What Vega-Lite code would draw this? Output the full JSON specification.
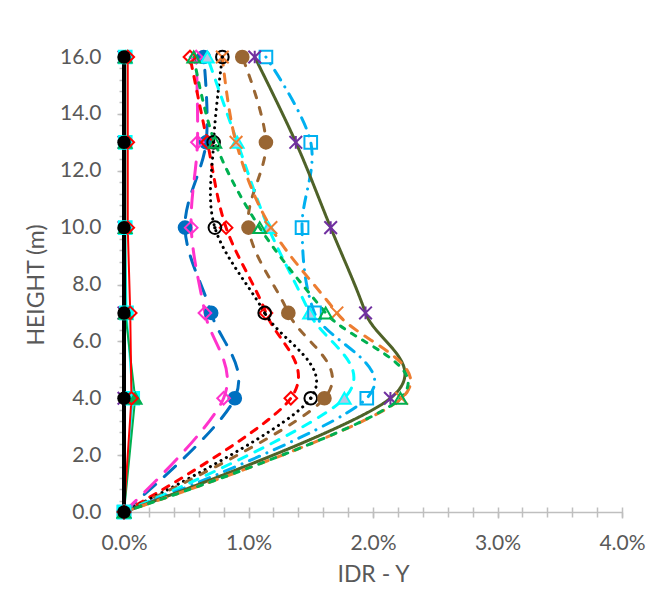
{
  "$schema": "https://vega.github.io/schema/vega-lite/v6.json",
  "width": 498,
  "height": 455,
  "autosize": {"type": "none"},
  "padding": {"left": 124, "top": 57, "right": 48, "bottom": 89},
  "background": "white",
  "config": {"view": {"stroke": null}, "font": "Lato"},
  "data": {"values": [
    {"s": "blue", "h": 0, "v": 0}, {"s": "blue", "h": 4, "v": 0.0089}, {"s": "blue", "h": 7, "v": 0.0070}, {"s": "blue", "h": 10, "v": 0.0049}, {"s": "blue", "h": 13, "v": 0.0066}, {"s": "blue", "h": 16, "v": 0.0064},
    {"s": "pink", "h": 0, "v": 0}, {"s": "pink", "h": 4, "v": 0.0080}, {"s": "pink", "h": 7, "v": 0.0065}, {"s": "pink", "h": 10, "v": 0.0054}, {"s": "pink", "h": 13, "v": 0.0059}, {"s": "pink", "h": 16, "v": 0.0058},
    {"s": "red", "h": 0, "v": 0}, {"s": "red", "h": 4, "v": 0.0134}, {"s": "red", "h": 7, "v": 0.0114}, {"s": "red", "h": 10, "v": 0.0082}, {"s": "red", "h": 13, "v": 0.0067}, {"s": "red", "h": 16, "v": 0.0053},
    {"s": "black", "h": 0, "v": 0}, {"s": "black", "h": 4, "v": 0.0150}, {"s": "black", "h": 7, "v": 0.0113}, {"s": "black", "h": 10, "v": 0.0073}, {"s": "black", "h": 13, "v": 0.0072}, {"s": "black", "h": 16, "v": 0.0079},
    {"s": "brown", "h": 0, "v": 0}, {"s": "brown", "h": 4, "v": 0.0161}, {"s": "brown", "h": 7, "v": 0.0132}, {"s": "brown", "h": 10, "v": 0.0100}, {"s": "brown", "h": 13, "v": 0.0114}, {"s": "brown", "h": 16, "v": 0.0095},
    {"s": "cyan", "h": 0, "v": 0}, {"s": "cyan", "h": 4, "v": 0.0177}, {"s": "cyan", "h": 7, "v": 0.0149}, {"s": "cyan", "h": 10, "v": 0.0116}, {"s": "cyan", "h": 13, "v": 0.0091}, {"s": "cyan", "h": 16, "v": 0.0067},
    {"s": "lightblue", "h": 0, "v": 0}, {"s": "lightblue", "h": 4, "v": 0.0195}, {"s": "lightblue", "h": 7, "v": 0.0153}, {"s": "lightblue", "h": 10, "v": 0.0143}, {"s": "lightblue", "h": 13, "v": 0.0150}, {"s": "lightblue", "h": 16, "v": 0.0114},
    {"s": "olive", "h": 0, "v": 0}, {"s": "olive", "h": 4, "v": 0.0214}, {"s": "olive", "h": 7, "v": 0.0194}, {"s": "olive", "h": 10, "v": 0.0166}, {"s": "olive", "h": 13, "v": 0.0138}, {"s": "olive", "h": 16, "v": 0.0105},
    {"s": "orange", "h": 0, "v": 0}, {"s": "orange", "h": 4, "v": 0.0223}, {"s": "orange", "h": 7, "v": 0.0171}, {"s": "orange", "h": 10, "v": 0.0118}, {"s": "orange", "h": 13, "v": 0.0090}, {"s": "orange", "h": 16, "v": 0.0079},
    {"s": "green", "h": 0, "v": 0}, {"s": "green", "h": 4, "v": 0.0222}, {"s": "green", "h": 7, "v": 0.0162}, {"s": "green", "h": 10, "v": 0.0109}, {"s": "green", "h": 13, "v": 0.0073}, {"s": "green", "h": 16, "v": 0.0056},
    {"s": "z_purple", "h": 0, "v": 0}, {"s": "z_purple", "h": 4, "v": 0}, {"s": "z_purple", "h": 7, "v": 0}, {"s": "z_purple", "h": 10, "v": 0}, {"s": "z_purple", "h": 13, "v": 0}, {"s": "z_purple", "h": 16, "v": 0},
    {"s": "z_cyan", "h": 0, "v": 0}, {"s": "z_cyan", "h": 4, "v": 0.0007}, {"s": "z_cyan", "h": 7, "v": 0.0002}, {"s": "z_cyan", "h": 10, "v": 0.0001}, {"s": "z_cyan", "h": 13, "v": 0.0001}, {"s": "z_cyan", "h": 16, "v": 0.0001},
    {"s": "z_green", "h": 0, "v": 0}, {"s": "z_green", "h": 4, "v": 0.0009}, {"s": "z_green", "h": 7, "v": 0.0001}, {"s": "z_green", "h": 10, "v": 0.0001}, {"s": "z_green", "h": 13, "v": 0.0001}, {"s": "z_green", "h": 16, "v": 0.0001},
    {"s": "z_red", "h": 0, "v": 0}, {"s": "z_red", "h": 4, "v": 0.0006}, {"s": "z_red", "h": 7, "v": 0.0005}, {"s": "z_red", "h": 10, "v": 0.0003}, {"s": "z_red", "h": 13, "v": 0.0003}, {"s": "z_red", "h": 16, "v": 0.0003},
    {"s": "z_black", "h": 0, "v": 0}, {"s": "z_black", "h": 4, "v": 0}, {"s": "z_black", "h": 7, "v": 0}, {"s": "z_black", "h": 10, "v": 0}, {"s": "z_black", "h": 13, "v": 0}, {"s": "z_black", "h": 16, "v": 0}
  ]},
  "layer": [
    {
      "transform": [{"filter": "indexof(['blue','pink','red','black','brown','cyan','lightblue','olive','orange','green'], datum.s) >= 0"}],
      "mark": {"type": "line", "interpolate": "cardinal", "strokeCap": "round", "strokeJoin": "round", "strokeWidth": 3},
      "encoding": {
        "x": {"field": "v", "type": "quantitative", "scale": {"domain": [0, 0.04], "nice": false, "zero": false},
          "axis": {"orient": "bottom", "values": [0, 0.01, 0.02, 0.03, 0.04], "format": ".1%", "title": "IDR - Y", "grid": false,
            "domainColor": "#BFBFBF", "domainWidth": 1.5, "tickColor": "#BFBFBF", "tickWidth": 1.5, "tickSize": 6,
            "labelPadding": 14, "labelFontSize": 21, "labelColor": "#595959", "labelFlush": false, "labelOverlap": false,
            "titleFontSize": 23, "titleColor": "#595959", "titleFontWeight": "normal", "titlePadding": 10}},
        "y": {"field": "h", "type": "quantitative", "scale": {"domain": [0, 16], "nice": false, "zero": false},
          "axis": {"orient": "left", "values": [0, 2, 4, 6, 8, 10, 12, 14, 16], "format": ".1f", "title": "HEIGHT (m)", "grid": false,
            "domainColor": "#BFBFBF", "domainWidth": 1.5, "tickColor": "#BFBFBF", "tickWidth": 1.5, "tickSize": 7,
            "labelPadding": 16, "labelFontSize": 21, "labelColor": "#595959", "labelFlush": false, "labelOverlap": false,
            "titleFontSize": 23, "titleColor": "#595959", "titleFontWeight": "normal", "titlePadding": 11}},
        "color": {"field": "s", "type": "nominal", "legend": null,
          "scale": {"domain": ["blue","pink","red","black","brown","cyan","lightblue","olive","orange","green","z_purple","z_cyan","z_green","z_red","z_black"],
            "range": ["#0070C0","#FF33CC","#FF0000","#000000","#996633","#00FFFF","#00B0F0","#4F6228","#ED7D31","#00B050","#7030A0","#00FFFF","#00B050","#FF0000","#000000"]}},
        "strokeDash": {"field": "s", "type": "nominal", "legend": null,
          "scale": {"domain": ["blue","pink","red","black","brown","cyan","lightblue","olive","orange","green"],
            "range": [[15,12],[17,12],[7,8],[0.1,6],[7,10],[9,9],[11,8,0.1,8],[1,0],[9,9],[5,8]]}},
        "order": {"field": "h", "type": "quantitative"}
      }
    },
    {
      "transform": [{"filter": "indexof(['z_purple','z_cyan','z_green','z_red'], datum.s) >= 0"}],
      "mark": {"type": "line", "interpolate": "linear", "strokeWidth": 2},
      "encoding": {
        "x": {"field": "v", "type": "quantitative", "scale": {"domain": [0, 0.04], "nice": false, "zero": false}, "axis": null},
        "y": {"field": "h", "type": "quantitative", "scale": {"domain": [0, 16], "nice": false, "zero": false}, "axis": null},
        "color": {"field": "s", "type": "nominal", "legend": null},
        "order": {"field": "h", "type": "quantitative"}
      }
    },
    {
      "transform": [{"filter": "datum.s === 'z_black'"}],
      "mark": {"type": "line", "strokeWidth": 4, "color": "#000000"},
      "encoding": {
        "x": {"field": "v", "type": "quantitative", "scale": {"domain": [0, 0.04], "nice": false, "zero": false}, "axis": null},
        "y": {"field": "h", "type": "quantitative", "scale": {"domain": [0, 16], "nice": false, "zero": false}, "axis": null},
        "order": {"field": "h", "type": "quantitative"}
      }
    },
    {
      "transform": [{"filter": "datum.s !== 'z_black'"}],
      "mark": {"type": "point", "size": 160, "strokeWidth": 2, "opacity": 1},
      "encoding": {
        "x": {"field": "v", "type": "quantitative", "scale": {"domain": [0, 0.04], "nice": false, "zero": false},
          "axis": {"orient": "bottom", "values": [0,0.002,0.004,0.006,0.008,0.01,0.012,0.014,0.016,0.018,0.02,0.022,0.024,0.026,0.028,0.03,0.032,0.034,0.036,0.038,0.04],
            "labels": false, "domain": false, "grid": false, "title": null, "tickSize": 10, "offset": -5, "tickColor": "#BFBFBF", "tickWidth": 1.5}},
        "y": {"field": "h", "type": "quantitative", "scale": {"domain": [0, 16], "nice": false, "zero": false},
          "axis": {"orient": "left", "values": [0,0.4,0.8,1.2,1.6,2,2.4,2.8,3.2,3.6,4,4.4,4.8,5.2,5.6,6,6.4,6.8,7.2,7.6,8,8.4,8.8,9.2,9.6,10,10.4,10.8,11.2,11.6,12,12.4,12.8,13.2,13.6,14,14.4,14.8,15.2,15.6,16],
            "labels": false, "domain": false, "grid": false, "title": null, "tickSize": 5, "tickColor": "#BFBFBF", "tickWidth": 1.5}},
        "shape": {"field": "s", "type": "nominal", "legend": null,
          "scale": {"domain": ["blue","pink","red","black","brown","cyan","lightblue","olive","orange","green","z_purple","z_cyan","z_green","z_red"],
            "range": ["circle","diamond","diamond","circle","circle","triangle-up","square","M-1,-1L1,1M1,-1L-1,1M0,-1L0,1","M-1,-1L1,1M1,-1L-1,1","triangle-up","M-1,-1L1,1M1,-1L-1,1M0,-1L0,1","square","triangle-up","diamond"]}},
        "fill": {"field": "s", "type": "nominal", "legend": null,
          "scale": {"domain": ["blue","pink","red","black","brown","cyan","lightblue","olive","orange","green","z_purple","z_cyan","z_green","z_red"],
            "range": ["#0070C0","transparent","transparent","transparent","#996633","#B8C6E3","transparent","transparent","transparent","transparent","transparent","#00FFFF","#00B050","transparent"]}},
        "stroke": {"field": "s", "type": "nominal", "legend": null,
          "scale": {"domain": ["blue","pink","red","black","brown","cyan","lightblue","olive","orange","green","z_purple","z_cyan","z_green","z_red"],
            "range": ["#0070C0","#FF33CC","#FF0000","#000000","#996633","#00FFFF","#00B0F0","#7030A0","#ED7D31","#00B050","#7030A0","#00FFFF","#00B050","#FF0000"]}}
      }
    },
    {
      "transform": [{"filter": "datum.s === 'z_black'"}],
      "mark": {"type": "point", "shape": "circle", "filled": true, "size": 180, "color": "#000000", "opacity": 1},
      "encoding": {
        "x": {"field": "v", "type": "quantitative", "scale": {"domain": [0, 0.04], "nice": false, "zero": false}, "axis": null},
        "y": {"field": "h", "type": "quantitative", "scale": {"domain": [0, 16], "nice": false, "zero": false}, "axis": null}
      }
    },
    {
      "transform": [{"filter": "datum.s === 'black' && datum.h > 0"}],
      "mark": {"type": "point", "shape": "circle", "filled": true, "size": 12, "color": "#000000", "opacity": 1},
      "encoding": {
        "x": {"field": "v", "type": "quantitative", "scale": {"domain": [0, 0.04], "nice": false, "zero": false}, "axis": null},
        "y": {"field": "h", "type": "quantitative", "scale": {"domain": [0, 16], "nice": false, "zero": false}, "axis": null}
      }
    }
  ],
  "resolve": {"axis": {"x": "independent", "y": "independent"}}
}
